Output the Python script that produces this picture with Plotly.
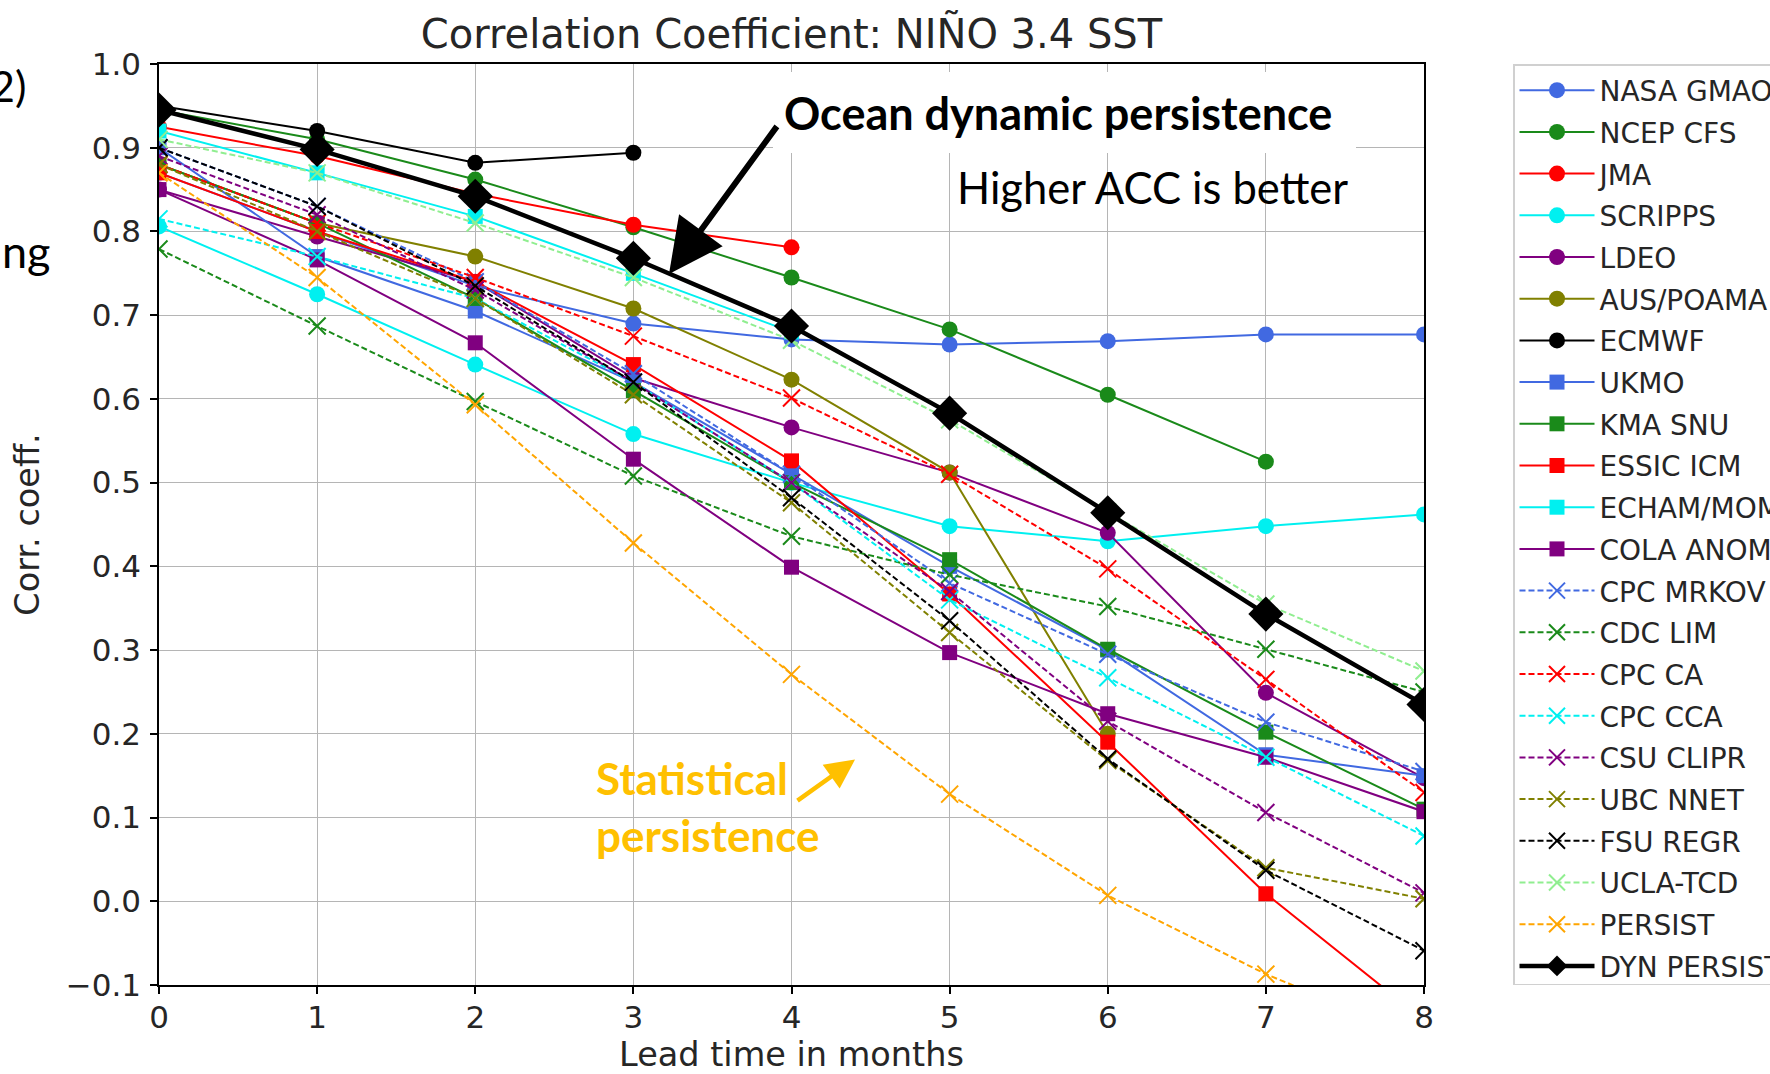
import plotly.graph_objects as go

# ---------------- data ----------------
leads = [0, 1, 2, 3, 4, 5, 6, 7, 8]
y_ticks = [-0.1, 0.0, 0.1, 0.2, 0.3, 0.4, 0.5, 0.6, 0.7, 0.8, 0.9, 1.0]

model_names = ["NASA GMAO", "NCEP CFS", "JMA", "SCRIPPS", "LDEO", "AUS/POAMA", "ECMWF",
               "UKMO", "KMA SNU", "ESSIC ICM", "ECHAM/MOM", "COLA ANOM",
               "CPC MRKOV", "CDC LIM", "CPC CA", "CPC CCA", "CSU CLIPR", "UBC NNET",
               "FSU REGR", "UCLA-TCD", "PERSIST", "DYN PERSIST"]

nasa_gmao = [0.87, 0.80, 0.735, 0.69, 0.671, 0.665, 0.669, 0.677, 0.677]
ncep_cfs = [0.945, 0.91, 0.862, 0.805, 0.745, 0.683, 0.605, 0.525]
jma = [0.925, 0.89, 0.845, 0.808, 0.781]
scripps = [0.806, 0.725, 0.641, 0.558, 0.50, 0.448, 0.43, 0.448, 0.462]
ldeo = [0.85, 0.794, 0.74, 0.625, 0.566, 0.512, 0.440, 0.249, 0.147]
aus_poama = [0.88, 0.81, 0.770, 0.708, 0.623, 0.512, 0.20]
ecmwf = [0.95, 0.92, 0.882, 0.894]
ukmo = [0.90, 0.77, 0.705, 0.62, 0.51, 0.40, 0.30, 0.175, 0.15]
kma_snu = [0.88, 0.81, 0.72, 0.61, 0.50, 0.408, 0.301, 0.202, 0.11]
essic_icm = [0.87, 0.80, 0.74, 0.641, 0.526, 0.367, 0.190, 0.009, -0.142]
echam_mom = [0.92, 0.87, 0.818, 0.75, 0.68]
cola_anom = [0.85, 0.766, 0.667, 0.528, 0.399, 0.297, 0.224, 0.172, 0.107]
cpc_mrkov = [0.90, 0.83, 0.74, 0.63, 0.51, 0.38, 0.295, 0.214, 0.155]
cdc_lim = [0.779, 0.687, 0.597, 0.508, 0.436, 0.39, 0.352, 0.301, 0.25]
cpc_ca = [0.88, 0.81, 0.745, 0.675, 0.601, 0.51, 0.397, 0.265, 0.13]
cpc_cca = [0.815, 0.77, 0.72, 0.62, 0.50, 0.36, 0.267, 0.172, 0.078]
csu_clipr = [0.89, 0.82, 0.73, 0.62, 0.50, 0.37, 0.215, 0.106, 0.01]
ubc_nnet = [0.88, 0.80, 0.72, 0.605, 0.476, 0.321, 0.168, 0.04, 0.003]
fsu_regr = [0.90, 0.83, 0.735, 0.62, 0.482, 0.335, 0.170, 0.037, -0.059]
ucla_tcd = [0.91, 0.87, 0.81, 0.745, 0.67, 0.575, 0.465, 0.355, 0.275]
persist = [0.87, 0.745, 0.593, 0.428, 0.271, 0.128, 0.007, -0.087, -0.165]
dyn_persist = [0.945, 0.898, 0.842, 0.768, 0.687, 0.583, 0.464, 0.343, 0.235]

series_values = [nasa_gmao, ncep_cfs, jma, scripps, ldeo, aus_poama, ecmwf,
                 ukmo, kma_snu, essic_icm, echam_mom, cola_anom,
                 cpc_mrkov, cdc_lim, cpc_ca, cpc_cca, csu_clipr, ubc_nnet,
                 fsu_regr, ucla_tcd, persist, dyn_persist]

# ---------------- styles ----------------
BLUE, GREEN, RED, CYAN = "#4169E1", "#1a8a1a", "#FF0000", "#00F0F0"
PURPLE, OLIVE, BLACK = "#800080", "#808000", "#000000"
LGREEN, ORANGE = "#90EE90", "#FFA500"

styles = [
    (BLUE, "circle", "solid"), (GREEN, "circle", "solid"), (RED, "circle", "solid"),
    (CYAN, "circle", "solid"), (PURPLE, "circle", "solid"), (OLIVE, "circle", "solid"),
    (BLACK, "circle", "solid"),
    (BLUE, "square", "solid"), (GREEN, "square", "solid"), (RED, "square", "solid"),
    (CYAN, "square", "solid"), (PURPLE, "square", "solid"),
    (BLUE, "x-thin-open", "dash"), (GREEN, "x-thin-open", "dash"), (RED, "x-thin-open", "dash"),
    (CYAN, "x-thin-open", "dash"), (PURPLE, "x-thin-open", "dash"), (OLIVE, "x-thin-open", "dash"),
    (BLACK, "x-thin-open", "dash"), (LGREEN, "x-thin-open", "dash"), (ORANGE, "x-thin-open", "dash"),
    (BLACK, "diamond", "solid"),
]

W, H = 1770, 1074
PL, PR, PT, PB = 159, 1424, 64, 985.5   # plot area in pixels


def paper_x(px):
    return (px - PL) / (PR - PL)


def paper_y(py):
    return (PB - py) / (PB - PT)


fig = go.Figure()
for i, (name, vals, (col, sym, dash)) in enumerate(zip(model_names, series_values, styles)):
    is_dyn = name == "DYN PERSIST"
    if sym == "circle":
        msize, mline = 16, dict(width=0)
    elif sym == "square":
        msize, mline = 15, dict(width=0)
    elif sym == "diamond":
        msize, mline = 27, dict(width=0)
    else:
        msize, mline = 17, dict(width=2, color=col)
    fig.add_trace(go.Scatter(
        x=leads[:len(vals)], y=vals, name=name, mode="lines+markers",
        legendgroup=f"g{i}",
        line=dict(color=col, width=4.5 if is_dyn else 2, dash="6px,3px" if dash == "dash" else "solid"),
        marker=dict(symbol=sym, size=msize, color=col, line=mline),
    ))

TICKFONT = dict(family="DejaVu Sans", size=31, color="#262626")
LABELFONT = dict(family="DejaVu Sans", size=33.5, color="#262626")

fig.update_layout(
    width=W, height=H,
    paper_bgcolor="white", plot_bgcolor="white",
    margin=dict(l=PL, r=W - PR, t=PT, b=H - PB, autoexpand=False),
    title=dict(text="Correlation Coefficient: NIÑO 3.4 SST", x=0.5, xanchor="center", xref="paper",
               y=1 - 34 / H, yanchor="middle", yref="container",
               font=dict(family="DejaVu Sans", size=40, color="#262626")),
    xaxis=dict(range=[0, 8], tickvals=leads, showgrid=True, gridcolor="#b5b5b5", gridwidth=1.3,
               zeroline=False, showline=True, linecolor="black", linewidth=1.6, mirror=True,
               ticks="outside", ticklen=7, tickwidth=1.5, tickcolor="black", tickfont=TICKFONT,
               ticklabelstandoff=-3,
               title=dict(text="Lead time in months", standoff=12, font=LABELFONT)),
    yaxis=dict(range=[-0.1, 1.0], tickvals=y_ticks, tickformat=".1f", showgrid=True,
               gridcolor="#b5b5b5", gridwidth=1.3, zeroline=False, showline=True,
               linecolor="black", linewidth=1.6, mirror=True, ticks="outside", ticklen=7,
               tickwidth=1.5, tickcolor="black", tickfont=TICKFONT, ticklabelstandoff=3,
               title=dict(text="Corr. coeff.", standoff=16, font=LABELFONT)),
    legend=dict(x=paper_x(1513), y=1.0, xanchor="left", yanchor="top",
                bgcolor="white", bordercolor="#d0d0d0", borderwidth=1.5,
                font=dict(family="DejaVu Sans", size=28, color="#262626"),
                tracegroupgap=2.3, itemwidth=75, traceorder="grouped"),
    showlegend=True,
)

# white box behind the top annotation
fig.add_shape(type="rect", xref="paper", yref="paper",
              x0=paper_x(773), x1=paper_x(1356), y0=paper_y(153), y1=paper_y(72),
              fillcolor="white", line=dict(width=0), layer="above")

ANNFONT = "Lato"
fig.add_annotation(xref="paper", yref="paper", x=paper_x(1058), y=paper_y(113),
                   xanchor="center", yanchor="middle", showarrow=False,
                   text="<b>Ocean dynamic persistence</b>",
                   font=dict(family=ANNFONT, size=45, color="black"))
fig.add_annotation(xref="paper", yref="paper", x=paper_x(1152), y=paper_y(187),
                   xanchor="center", yanchor="middle", showarrow=False,
                   text="Higher ACC is better",
                   font=dict(family=ANNFONT, size=43.5, color="black"))
fig.add_annotation(xref="paper", yref="paper", x=paper_x(594), y=paper_y(807),
                   xanchor="left", yanchor="middle", showarrow=False, align="left",
                   text="<b>Statistical<br>persistence</b>",
                   font=dict(family=ANNFONT, size=44, color="#FFC000"))
# arrows
fig.add_annotation(xref="paper", yref="paper", x=paper_x(669), y=paper_y(274),
                   ax=778 - 669, ay=125 - 274, showarrow=True, text="",
                   arrowhead=2, arrowsize=1.8, arrowwidth=6, arrowcolor="black")
fig.add_annotation(xref="paper", yref="paper", x=paper_x(855), y=paper_y(760),
                   ax=796 - 855, ay=802 - 760, showarrow=True, text="",
                   arrowhead=2, arrowsize=1.3, arrowwidth=4.5, arrowcolor="#FFC000")
# cropped slide text at the left edge
fig.add_annotation(xref="paper", yref="paper", x=paper_x(28), y=paper_y(86),
                   xanchor="right", yanchor="middle", showarrow=False, text="2)",
                   font=dict(family=ANNFONT, size=43, color="black"))
fig.add_annotation(xref="paper", yref="paper", x=paper_x(0), y=paper_y(251),
                   xanchor="left", yanchor="middle", showarrow=False, text="ng",
                   font=dict(family=ANNFONT, size=45, color="black"))

fig.write_html("out.html", config={"displayModeBar": False},
               post_script="document.body.style.margin='0';")
